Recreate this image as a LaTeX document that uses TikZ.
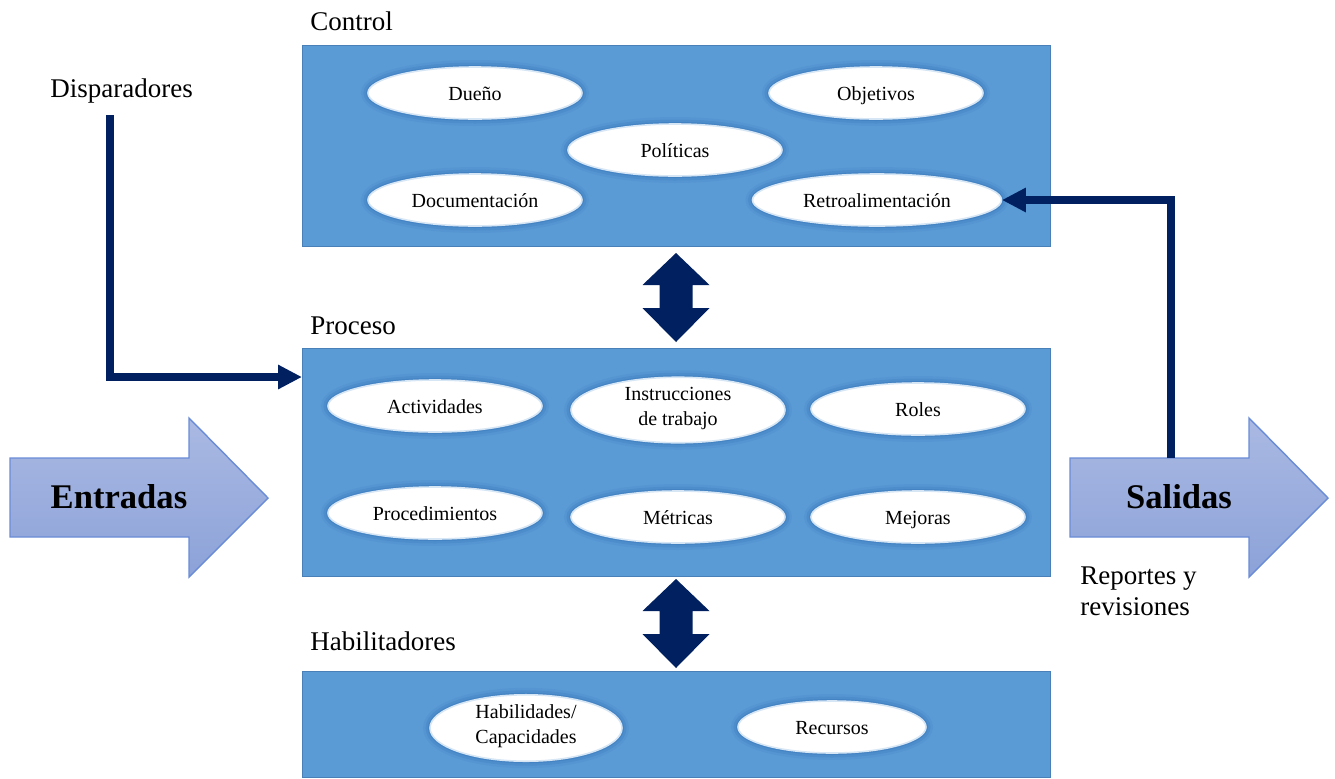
\documentclass[tikz,border=0pt]{standalone}
\usepackage{fontspec}
\setmainfont{Liberation Serif}
\usetikzlibrary{shapes.geometric,arrows.meta}

\definecolor{boxblue}{HTML}{5B9BD5}
\definecolor{boxline}{HTML}{4A80B8}
\definecolor{navy}{HTML}{002060}
\definecolor{halo}{HTML}{2F6DB5}
\definecolor{arrtop}{HTML}{AAB9E3}
\definecolor{arrbot}{HTML}{8CA2D8}
\definecolor{arrline}{HTML}{6A8CD6}

% struts that centre the ellipse texts a little lower
\newcommand\itemtop{\rule[-3.75pt]{0pt}{14.75pt}}
\newcommand\itembot{\rule[-3.75pt]{0pt}{12.5pt}}

\begin{document}
\begin{tikzpicture}[x=0.5pt,y=-0.5pt,
  stage/.style={draw=boxline, line width=0.6pt, fill=boxblue,
    minimum width=374pt, inner sep=0pt, anchor=north west},
  stagelabel/.style={anchor=base west, inner sep=0pt,
    font=\fontsize{13.5}{15}\selectfont},
  item/.style={ellipse, fill=white, inner sep=0pt,
    minimum width=107pt, minimum height=26pt, align=center,
    font=\fontsize{10}{12.8}\selectfont,
    execute at begin node=\itemtop, execute at end node=\itembot,
    preaction={draw=halo, line width=7pt, draw opacity=0.12},
    preaction={draw=halo, line width=4.5pt, draw opacity=0.20},
    preaction={draw=halo, line width=2pt, draw opacity=0.30},
    postaction={draw=white!75!boxblue, line width=0.8pt}},
  twoline/.style={minimum height=27pt,
    execute at begin node={\rule{0pt}{18pt}}},
  bigarrow/.style={draw=arrline, line width=0.7pt,
    top color=arrtop, bottom color=arrbot},
  bigtext/.style={inner sep=0pt, font=\fontsize{17.3}{20}\selectfont\bfseries},
  link/.style={draw=navy, line width=4pt,
    -{Triangle[length=12pt,width=11.5pt]}},
  twoway/.style={fill=navy}
]
\useasboundingbox (0,0) rectangle (1335,778);

% the three stages
\node[stage, minimum height=100.5pt] (ctrl) at (302,45) {};
\node[stage, minimum height=114pt]   (proc) at (302,348) {};
\node[stage, minimum height=53pt]    (enab) at (302,671) {};

\node[stagelabel] (ctrllab) at (310,30)  {Control};
\node[stagelabel] (proclab) at (310,334) {Proceso};
\node[stagelabel] (enablab) at (310,650) {Habilitadores};
\node[stagelabel] (disp)    at (50,97)   {Disparadores};

% control elements
\node[item] (owner)  at (475,93)  {Dueño};
\node[item] (goals)  at (876,93)  {Objetivos};
\node[item] (policy) at (675,150) {Políticas};
\node[item] (docs)   at (475,200) {Documentación};
\node[item, minimum width=124.5pt] (retro) at (877,200) {Retroalimentación};

% process elements
\node[item] (acts)  at (435,406) {Actividades};
\node[item, twoline] (instr) at (678,410) {Instrucciones\\de trabajo};
\node[item] (roles) at (918,409) {Roles};
\node[item] (procs) at (435,513) {Procedimientos};
\node[item] (metr)  at (678,517) {Métricas};
\node[item] (impr)  at (918,517) {Mejoras};

% enablers
\node[item, twoline, minimum width=96pt] (skills) at (526,728) {Habilidades/\\Capacidades};
\node[item, minimum width=94pt] (res) at (832,727) {Recursos};

% two-way links between stages
\foreach \ty in {253,579}{
  \fill[twoway, shift={(676,\ty)}]
    (0,0) -- (33.5,32) -- (16.5,32) -- (16.5,55) -- (33.5,55) -- (0,89)
    -- (-33.5,55) -- (-16.5,55) -- (-16.5,32) -- (-33.5,32) -- cycle;
}

% inputs and outputs
\path[bigarrow] (10,458) -- (189,458) -- (189,418) -- (268,498)
  -- (189,577) -- (189,537) -- (10,537) -- cycle;
\path[bigarrow] (1070,458) -- (1249,458) -- (1249,418) -- (1328,498)
  -- (1249,577) -- (1249,537) -- (1070,537) -- cycle;
\node[bigtext] (inp) at (119,497) {Entradas};
\node[bigtext] (out) at (1179,497) {Salidas};
\node[stagelabel, align=left, font=\fontsize{13.5}{15.5}\selectfont]
  (reports) at (1080,615) {Reportes y\\revisiones};

% triggers and feedback
\coordinate (trig)   at (110,115);
\coordinate (procin) at (302,377);
\coordinate (fb)     at (1171,458);
\draw[link] (trig) |- (procin);
\draw[link] (fb) |- (retro.east);
\end{tikzpicture}
\end{document}
